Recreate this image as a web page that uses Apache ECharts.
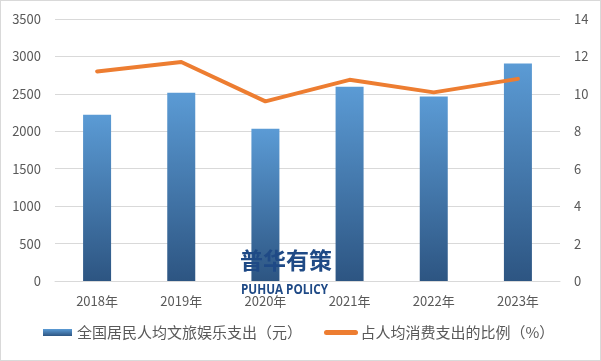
<!DOCTYPE html>
<html><head><meta charset="utf-8">
<script src="https://cdn.jsdelivr.net/npm/echarts@6/dist/echarts.min.js"></script>
<style>html,body{margin:0;padding:0;background:#fff}#c{width:601px;height:361px;box-sizing:border-box;border:1px solid #d9d9d9}</style>
</head><body><div id="c"></div>
<script>
const categories = ['2018年','2019年','2020年','2021年','2022年','2023年'];
const spending = [2220, 2515, 2035, 2595, 2465, 2905];
const ratio = [11.2, 11.7, 9.6, 10.75, 10.08, 10.8];
const barName = '全国居民人均文旅娱乐支出（元）';
const lineName = '占人均消费支出的比例（%）';

const chart = echarts.init(document.getElementById('c'));
const labelStyle = {color:'#595959', fontSize:13, fontFamily:'"Noto Sans CJK SC", "Open Sans", sans-serif'};
chart.setOption({
  animation:false,
  grid:{left:54, right:40, top:18, bottom:79},
  legend:{
    bottom:15, left:37, itemGap:22, itemWidth:29, itemHeight:7,
    textStyle:{color:'#595959', fontSize:15, fontFamily:'"Noto Sans CJK SC", sans-serif'},
    data:[
      {name:barName, icon:'rect'},
      {name:lineName, itemStyle:{opacity:0}, lineStyle:{width:5, cap:'round'}}
    ]
  },
  xAxis:{type:'category', data:categories,
    axisLine:{lineStyle:{color:'#d9d9d9'}}, axisTick:{show:false},
    axisLabel:Object.assign({margin:14}, labelStyle)},
  yAxis:[
    {type:'value', min:0, max:3500, interval:500,
      axisLine:{show:false}, axisTick:{show:false},
      splitLine:{lineStyle:{color:'#d9d9d9'}},
      axisLabel:Object.assign({margin:14, formatter:v=>String(v)}, labelStyle)},
    {type:'value', min:0, max:14, interval:2,
      axisLine:{show:false}, axisTick:{show:false}, splitLine:{show:false},
      axisLabel:Object.assign({margin:14}, labelStyle)}
  ],
  series:[
    {name:barName, type:'bar', data:spending, barWidth:28,
      itemStyle:{color:new echarts.graphic.LinearGradient(0,0,0,1,[
        {offset:0, color:'#5B9BD5'},{offset:1, color:'#2D5582'}])}},
    {name:lineName, type:'line', yAxisIndex:1, data:ratio, symbol:'none',
      lineStyle:{color:'#ED7D31', width:4, cap:'round', join:'round'}, itemStyle:{color:'#ED7D31'}}
  ],
  graphic:[
    {type:'text', left:239, top:248, z:100, style:{text:'普华有策', fill:'#1F4A86', font:'bold 23px "Noto Sans CJK SC"'}},
    {type:'text', x:240, y:281, scaleX:0.78, z:100, style:{text:'PUHUA POLICY', fill:'#1F4A86', font:'bold 15px "Open Sans", sans-serif'}}
  ]
});
</script></body></html>
